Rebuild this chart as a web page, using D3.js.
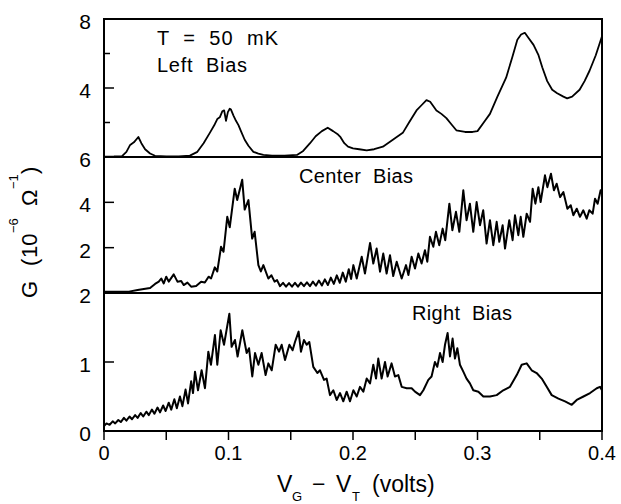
<!DOCTYPE html>
<html lang="en">
<head>
<meta charset="UTF-8">
<title>Conductance vs gate voltage</title>
<script src="https://d3js.org/d3.v7.min.js"></script>
<style>
  body { margin: 0; background: #fff; }
  text { font-family: "Liberation Sans", Arial, sans-serif; fill: #000; }
</style>
</head>
<body>
<div id="chart"></div>
<script>
// x axis
const xTicks = [0, 0.1, 0.2, 0.3, 0.4];
const xMinorTicks = [0.05, 0.15, 0.25, 0.35];

// panel tick values
const leftTicks = [4];
const leftMinor = [2, 6];
const leftLabels = [8, 4];
const centerTicks = [2, 4];
const centerLabels = [6, 4, 2];
const rightTicks = [1];
const rightLabels = [2, 1, 0];

// G (10^-6 / ohm), [V_G - V_T, G]
const leftBias = [
  [0, 0.02], [0.008, 0.03], [0.0145, 0.05], [0.018, 0.3], [0.021, 0.7], [0.024, 0.85], [0.0276, 1.16],
  [0.03, 0.8], [0.033, 0.45], [0.037, 0.2], [0.041, 0.07], [0.05, 0.03], [0.06, 0.03], [0.069, 0.08],
  [0.075, 0.3], [0.08, 0.8], [0.085, 1.4], [0.089, 1.9], [0.091, 2.2], [0.093, 2.3], [0.095, 2.65],
  [0.0965, 2.7], [0.098, 2.1], [0.0995, 2.6], [0.101, 2.8], [0.102, 2.75], [0.104, 2.4], [0.106, 2.1],
  [0.108, 1.85], [0.11, 1.5], [0.113, 1.0], [0.116, 0.65], [0.12, 0.3], [0.124, 0.2], [0.128, 0.12],
  [0.135, 0.08], [0.145, 0.08], [0.155, 0.12], [0.16, 0.35], [0.1655, 0.8], [0.17, 1.2], [0.175, 1.5],
  [0.1797, 1.7], [0.184, 1.5], [0.188, 1.3], [0.19, 1.15], [0.193, 0.8], [0.196, 0.6], [0.2, 0.5],
  [0.205, 0.45], [0.211, 0.38], [0.217, 0.45], [0.224, 0.6], [0.232, 1.0], [0.24, 1.4], [0.245, 2.0],
  [0.251, 2.7], [0.255, 3.0], [0.259, 3.3], [0.262, 3.2], [0.265, 2.9], [0.267, 2.7], [0.271, 2.5],
  [0.275, 2.25], [0.279, 1.9], [0.283, 1.55], [0.29, 1.45], [0.296, 1.45], [0.3, 1.5], [0.305, 2.0],
  [0.31, 2.5], [0.316, 3.5], [0.323, 4.6], [0.328, 5.8], [0.332, 6.8], [0.335, 7.1], [0.338, 7.2],
  [0.341, 6.9], [0.345, 6.5], [0.349, 5.9], [0.352, 5.2], [0.356, 4.4], [0.36, 3.9], [0.364, 3.7],
  [0.369, 3.5], [0.372, 3.4], [0.376, 3.5], [0.382, 3.9], [0.386, 4.4], [0.39, 5.0], [0.395, 5.9], [0.4, 7.0]
];

const centerBias = [
  [0, 0.05], [0.02, 0.06], [0.027, 0.13], [0.037, 0.22], [0.041, 0.4], [0.044, 0.5], [0.046, 0.64],
  [0.048, 0.42], [0.05, 0.72], [0.052, 0.5], [0.056, 0.82], [0.059, 0.5], [0.062, 0.53], [0.064, 0.35],
  [0.067, 0.46], [0.07, 0.28], [0.074, 0.31], [0.078, 0.5], [0.081, 0.46], [0.084, 0.72], [0.086, 0.64],
  [0.089, 1.13], [0.091, 0.95], [0.094, 2.04], [0.096, 1.82], [0.099, 3.36], [0.101, 2.9], [0.105, 4.6],
  [0.107, 4.1], [0.111, 5.0], [0.113, 3.68], [0.116, 4.1], [0.119, 2.4], [0.121, 2.7], [0.124, 1.23],
  [0.126, 0.95], [0.128, 1.23], [0.132, 0.64], [0.1345, 0.78], [0.137, 0.5], [0.139, 0.57],
  [0.1414, 0.3], [0.1438, 0.45], [0.1462, 0.28], [0.1486, 0.44], [0.151, 0.28], [0.1534, 0.45],
  [0.1558, 0.28], [0.1582, 0.46], [0.1606, 0.3], [0.163, 0.47], [0.1654, 0.3], [0.1678, 0.5],
  [0.1702, 0.32], [0.1726, 0.55], [0.175, 0.33], [0.1774, 0.6], [0.1798, 0.35], [0.1822, 0.68],
  [0.1846, 0.4], [0.187, 0.78], [0.1894, 0.45], [0.1918, 0.9], [0.1942, 0.5], [0.1966, 1.05],
  [0.1985, 0.62], [0.2003, 1.23], [0.203, 0.64], [0.207, 1.6], [0.2096, 0.86], [0.2137, 2.21],
  [0.2163, 1.3], [0.219, 1.96], [0.2217, 0.94], [0.2243, 1.74], [0.227, 0.86], [0.2297, 1.67],
  [0.2323, 0.75], [0.2351, 1.38], [0.2391, 0.64], [0.2426, 1.23], [0.2445, 0.79], [0.2471, 1.6],
  [0.2498, 1.08], [0.2525, 1.74], [0.2551, 1.3], [0.2578, 1.89], [0.2597, 1.38], [0.2618, 2.48],
  [0.2645, 2.04], [0.2666, 2.7], [0.2693, 2.11], [0.272, 2.84], [0.2741, 2.33], [0.2774, 3.94],
  [0.2798, 2.77], [0.2827, 3.58], [0.2854, 2.7], [0.2886, 4.53], [0.2912, 3.21], [0.2939, 3.94],
  [0.2966, 2.7], [0.2993, 4.01], [0.302, 2.99], [0.3046, 3.65], [0.3073, 2.18], [0.31, 3.21],
  [0.3127, 2.11], [0.3154, 3.14], [0.3175, 2.26], [0.3202, 2.99], [0.3221, 1.96], [0.3255, 3.21],
  [0.3282, 2.33], [0.3301, 3.43], [0.3328, 2.55], [0.3347, 3.36], [0.3368, 2.48], [0.3395, 3.5],
  [0.3422, 3.14], [0.3443, 4.6], [0.3465, 3.94], [0.3489, 4.67], [0.3507, 4.01], [0.3542, 5.19],
  [0.3561, 4.67], [0.359, 5.26], [0.3614, 4.53], [0.3636, 4.82], [0.3663, 4.23], [0.369, 4.45],
  [0.3722, 3.72], [0.3749, 3.87], [0.377, 3.43], [0.3797, 3.72], [0.3823, 3.36], [0.385, 3.65],
  [0.3877, 3.28], [0.3898, 3.65], [0.3925, 3.5], [0.3944, 4.16], [0.3965, 3.94], [0.3989, 4.53], [0.4, 4.45]
];

const rightBias = [
  [0, 0.07], [0.002, 0.11], [0.0045, 0.09], [0.007, 0.14], [0.009, 0.11], [0.0115, 0.16], [0.0135, 0.13],
  [0.016, 0.19], [0.018, 0.15], [0.0205, 0.21], [0.0225, 0.17], [0.025, 0.23], [0.027, 0.19],
  [0.0295, 0.26], [0.0315, 0.21], [0.034, 0.28], [0.036, 0.23], [0.0385, 0.31], [0.0405, 0.25],
  [0.043, 0.34], [0.045, 0.27], [0.0475, 0.37], [0.0495, 0.29], [0.052, 0.41], [0.054, 0.31],
  [0.0565, 0.46], [0.0585, 0.33], [0.061, 0.5], [0.063, 0.36], [0.0655, 0.6], [0.0675, 0.4],
  [0.07, 0.72], [0.0715, 0.55], [0.0731, 0.86], [0.0755, 0.59], [0.0784, 0.88], [0.0811, 0.62],
  [0.0838, 1.15], [0.0859, 0.96], [0.0891, 1.39], [0.091, 0.96], [0.0937, 1.46], [0.0964, 1.25],
  [0.1007, 1.7], [0.1025, 1.22], [0.1052, 1.32], [0.1073, 1.08], [0.1111, 1.46], [0.1146, 1.13],
  [0.1165, 1.2], [0.1191, 0.79], [0.1213, 1.13], [0.124, 0.96], [0.1266, 1.13], [0.1298, 0.81],
  [0.132, 0.98], [0.1347, 0.88], [0.1379, 1.25], [0.1406, 1.15], [0.1427, 1.25], [0.1454, 1.03],
  [0.1489, 1.25], [0.1515, 1.17], [0.1534, 1.29], [0.1563, 1.44], [0.1582, 1.15], [0.1606, 1.32],
  [0.1628, 1.25], [0.1649, 1.29], [0.1681, 0.93], [0.1714, 0.84], [0.1735, 0.88], [0.1767, 0.74],
  [0.1788, 0.76], [0.1815, 0.52], [0.1842, 0.59], [0.1869, 0.45], [0.1896, 0.55], [0.1922, 0.43],
  [0.1949, 0.57], [0.1976, 0.43], [0.2003, 0.59], [0.203, 0.5], [0.2056, 0.64], [0.2083, 0.57],
  [0.211, 0.76], [0.2137, 0.69], [0.2163, 0.96], [0.2185, 0.76], [0.2203, 1.05], [0.223, 0.76],
  [0.2257, 1.0], [0.2278, 0.79], [0.231, 0.98], [0.2337, 0.79], [0.2364, 0.81], [0.2391, 0.64],
  [0.2431, 0.62], [0.2471, 0.62], [0.2498, 0.57], [0.2538, 0.52], [0.2565, 0.59], [0.2605, 0.74],
  [0.2631, 0.79], [0.2658, 1.0], [0.2677, 0.93], [0.2699, 1.13], [0.272, 1.0], [0.2739, 1.25],
  [0.276, 1.42], [0.2779, 1.08], [0.28, 1.34], [0.2819, 1.05], [0.2838, 1.2], [0.2859, 0.96],
  [0.2886, 0.86], [0.2912, 0.76], [0.2939, 0.69], [0.2966, 0.59], [0.3007, 0.57], [0.3047, 0.5],
  [0.31, 0.5], [0.3154, 0.52], [0.3207, 0.59], [0.3261, 0.64], [0.3315, 0.81], [0.3355, 0.96],
  [0.3395, 0.98], [0.3435, 0.88], [0.3475, 0.84], [0.3516, 0.76], [0.3556, 0.64], [0.3596, 0.52],
  [0.365, 0.47], [0.3703, 0.43], [0.3757, 0.38], [0.3797, 0.45], [0.3851, 0.5], [0.3904, 0.55],
  [0.3958, 0.62], [0.3984, 0.64], [0.4, 0.59]
];

const W = 621, H = 504;
const svg = d3.select('#chart').append('svg')
  .attr('width', W)
  .attr('height', H);

const x = d3.scaleLinear().domain([0, 0.4]).range([104, 602]);

// three stacked panels share one x scale
const panels = [
  { data: leftBias, y: d3.scaleLinear().domain([0, 8]).range([157, 19]), ticks: leftTicks, minor: leftMinor, labels: leftLabels, width: 1.8 },
  { data: centerBias, y: d3.scaleLinear().domain([0, 6]).range([293, 157]), ticks: centerTicks, minor: [], labels: centerLabels, width: 2 },
  { data: rightBias, y: d3.scaleLinear().domain([0, 2]).range([431, 293]), ticks: rightTicks, minor: [], labels: rightLabels, width: 2 }
];

panels.forEach(p => {
  const line = d3.line().x(d => x(d[0])).y(d => p.y(d[1]));
  svg.append('path')
    .datum(p.data)
    .attr('d', line)
    .attr('fill', 'none')
    .attr('stroke', '#000')
    .attr('stroke-width', p.width)
    .attr('stroke-linejoin', 'round');

  // inward ticks on the left edge
  svg.selectAll(null).data(p.ticks).enter().append('line')
    .attr('x1', x(0)).attr('x2', x(0) + 10)
    .attr('y1', d => p.y(d)).attr('y2', d => p.y(d))
    .attr('stroke', '#000').attr('stroke-width', 1.5);
  svg.selectAll(null).data(p.minor).enter().append('line')
    .attr('x1', x(0)).attr('x2', x(0) + 6)
    .attr('y1', d => p.y(d)).attr('y2', d => p.y(d))
    .attr('stroke', '#000').attr('stroke-width', 1.5);

  svg.selectAll(null).data(p.labels).enter().append('text')
    .attr('x', 91)
    .attr('y', d => p.y(d) + 10)
    .attr('text-anchor', 'end')
    .attr('font-size', 21)
    .text(d => d);

  // panel frame
  svg.append('rect')
    .attr('x', x(0)).attr('y', p.y.range()[1])
    .attr('width', x(0.4) - x(0))
    .attr('height', p.y.range()[0] - p.y.range()[1])
    .attr('fill', 'none')
    .attr('stroke', '#000')
    .attr('stroke-width', 2);
});

// bottom x axis, ticks point outward
svg.selectAll(null).data(xTicks.concat(xMinorTicks)).enter().append('line')
  .attr('x1', d => x(d)).attr('x2', d => x(d))
  .attr('y1', 431).attr('y2', 440)
  .attr('stroke', '#000').attr('stroke-width', 1.5);

svg.selectAll(null).data(xTicks).enter().append('text')
  .attr('x', d => x(d))
  .attr('y', 460)
  .attr('text-anchor', 'middle')
  .attr('font-size', 20)
  .text(d => d === 0 ? '0' : d3.format('.1f')(d));

// x title: V_G - V_T (volts), pieces placed one by one
const xTitle = [
  { t: 'V', x: 277, y: 492, s: 23 },
  { t: 'G', x: 292, y: 501, s: 13 },
  { t: '\u2212', x: 312, y: 492, s: 23 },
  { t: 'V', x: 336, y: 492, s: 23 },
  { t: 'T', x: 352, y: 501, s: 13 },
  { t: '(volts)', x: 372, y: 492, s: 23 }
];
svg.selectAll(null).data(xTitle).enter().append('text')
  .attr('x', d => d.x).attr('y', d => d.y)
  .attr('font-size', d => d.s)
  .text(d => d.t);

// y title: G (10^-6 Ohm^-1), rotated
const yTitle = [
  { t: 'G', u: -298, v: 0, s: 22 },
  { t: '(', u: -266, v: 0, s: 22 },
  { t: '10', u: -258, v: 0, s: 22 },
  { t: '\u22126', u: -233, v: -19, s: 13 },
  { t: '\u03a9', u: -206, v: 0, s: 22 },
  { t: '\u22121', u: -189, v: -19, s: 13 },
  { t: ')', u: -174, v: 0, s: 22 }
];
svg.append('g')
  .attr('transform', 'translate(37,0) rotate(-90)')
  .selectAll('text').data(yTitle).enter().append('text')
  .attr('x', d => d.u).attr('y', d => d.v)
  .attr('font-size', d => d.s)
  .text(d => d.t);

// panel annotations
const notes = [
  { t: 'T  =  50  mK', x: 157, y: 45, w: 121 },
  { t: 'Left  Bias', x: 157, y: 72, w: 90 },
  { t: 'Center  Bias', x: 299, y: 183, w: 114 },
  { t: 'Right  Bias', x: 412, y: 320, w: 100 }
];
svg.selectAll(null).data(notes).enter().append('text')
  .attr('x', d => d.x).attr('y', d => d.y)
  .attr('font-size', 20)
  .attr('xml:space', 'preserve')
  .attr('textLength', d => d.w)
  .attr('lengthAdjust', 'spacing')
  .text(d => d.t);
</script>
</body>
</html>
